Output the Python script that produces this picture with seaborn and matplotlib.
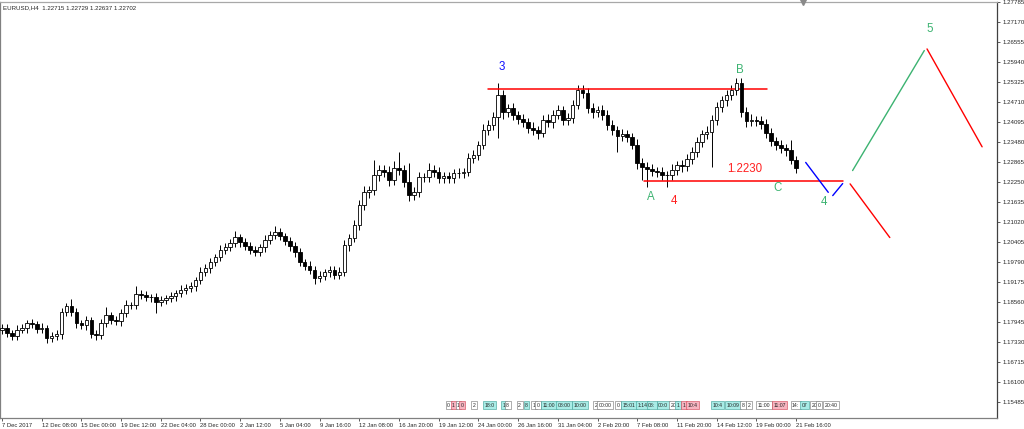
import numpy as np
import pandas as pd
import seaborn as sns
import matplotlib
matplotlib.use('Agg')
from matplotlib import pyplot as plt
import matplotlib.transforms as mtransforms

# EURUSD closes, one bar = 8 hours
first_open = 1.1770
closes = [
    1.1777, 1.1762, 1.1752, 1.1771, 1.1777, 1.1792, 1.1789, 1.1774, 1.1777, 1.1746,
    1.1752, 1.1758, 1.1826, 1.1845, 1.1826, 1.1792, 1.1786, 1.1802, 1.1758, 1.1755,
    1.1792, 1.1817, 1.1802, 1.1798, 1.1823, 1.1848, 1.1848, 1.1881, 1.1878, 1.1872,
    1.1872, 1.1857, 1.1863, 1.1869, 1.1875, 1.1885, 1.1894, 1.1900, 1.1906, 1.1925,
    1.1949, 1.1961, 1.1980, 1.1995, 1.2017, 1.2026, 1.2038, 1.2057, 1.2041, 1.2029,
    1.2017, 1.2011, 1.2026, 1.2048, 1.2063, 1.2072, 1.2060, 1.2044, 1.2029, 1.2011,
    1.1980, 1.1968, 1.1955, 1.1931, 1.1937, 1.1949, 1.1955, 1.1940, 1.1949, 1.2032,
    1.2054, 1.2094, 1.2155, 1.2195, 1.2201, 1.2247, 1.2263, 1.2257, 1.2232, 1.2269,
    1.2263, 1.2226, 1.2186, 1.2195, 1.2241, 1.2241, 1.2263, 1.2257, 1.2238, 1.2244,
    1.2238, 1.2254, 1.2254, 1.2257, 1.2300, 1.2309, 1.2340, 1.2386, 1.2401, 1.2426,
    1.2493, 1.2441, 1.2453, 1.2432, 1.2420, 1.2410, 1.2392, 1.2386, 1.2377, 1.2417,
    1.2410, 1.2432, 1.2447, 1.2417, 1.2423, 1.2463, 1.2509, 1.2500, 1.2453, 1.2441,
    1.2447, 1.2432, 1.2401, 1.2386, 1.2367, 1.2373, 1.2364, 1.2340, 1.2284, 1.2272,
    1.2266, 1.2260, 1.2257, 1.2247, 1.2247, 1.2263, 1.2278, 1.2275, 1.2297, 1.2318,
    1.2349, 1.2373, 1.2380, 1.2417, 1.2457, 1.2478, 1.2493, 1.2509, 1.2530, 1.2441,
    1.2413, 1.2417, 1.2413, 1.2404, 1.2377, 1.2352, 1.2340, 1.2330, 1.2324, 1.2294,
    1.2270]
# wicks in pips above / below the body
wick_up = [
    11, 13, 9, 14, 12, 9, 13, 10, 14, 9,
    12, 14, 13, 10, 22, 12, 9, 13, 10, 12,
    14, 24, 10, 13, 12, 14, 10, 24, 12, 13,
    10, 14, 12, 9, 13, 10, 14, 12, 13, 10,
    14, 12, 13, 10, 15, 12, 13, 17, 10, 14,
    12, 13, 10, 14, 12, 17, 13, 10, 14, 12,
    13, 10, 14, 12, 15, 10, 13, 12, 14, 16,
    13, 15, 14, 17, 13, 47, 15, 14, 17, 22,
    49, 15, 58, 14, 16, 13, 20, 14, 15, 13,
    14, 12, 15, 13, 14, 16, 13, 17, 14, 15,
    37, 17, 14, 15, 13, 16, 14, 17, 13, 15,
    17, 14, 15, 13, 16, 14, 16, 15, 14, 17,
    13, 15, 14, 16, 13, 15, 14, 13, 17, 15,
    14, 16, 13, 15, 14, 17, 13, 15, 14, 16,
    15, 13, 17, 14, 15, 13, 16, 14, 16, 15,
    14, 17, 13, 15, 14, 16, 13, 15, 14, 31,
    12]
wick_dn = [
    12, 14, 11, 13, 10, 14, 12, 13, 11, 14,
    13, 11, 14, 12, 13, 15, 11, 14, 12, 15,
    11, 13, 14, 12, 15, 11, 13, 14, 12, 13,
    14, 34, 12, 13, 11, 14, 12, 13, 11, 14,
    12, 13, 15, 11, 13, 14, 12, 13, 15, 12,
    14, 13, 12, 15, 13, 14, 12, 13, 14, 15,
    13, 14, 12, 18, 14, 13, 15, 12, 14, 13,
    17, 14, 16, 15, 19, 14, 17, 15, 18, 14,
    16, 15, 20, 17, 14, 16, 15, 17, 14, 15,
    16, 14, 15, 17, 14, 15, 16, 14, 17, 15,
    65, 20, 16, 15, 17, 14, 16, 15, 18, 14,
    15, 17, 14, 16, 15, 17, 14, 16, 15, 17,
    14, 16, 15, 17, 50, 15, 16, 14, 17, 40,
    56, 15, 17, 14, 37, 16, 15, 17, 14, 16,
    15, 17, 14, 108, 16, 15, 17, 14, 16, 15,
    17, 14, 16, 15, 17, 14, 16, 15, 17, 14,
    15]

date_labels = ['7 Dec 2017', '12 Dec 08:00', '15 Dec 00:00', '19 Dec 12:00', '22 Dec 04:00',
               '28 Dec 00:00', '2 Jan 12:00', '5 Jan 04:00', '9 Jan 16:00', '12 Jan 08:00',
               '16 Jan 20:00', '19 Jan 12:00', '24 Jan 00:00', '26 Jan 16:00', '31 Jan 04:00',
               '2 Feb 20:00', '7 Feb 08:00', '11 Feb 20:00', '14 Feb 12:00', '19 Feb 00:00',
               '21 Feb 16:00']
date_bars = [0, 8, 16, 24, 32, 40, 48, 56, 64, 72, 80, 88, 96, 104, 112, 120, 128, 136, 144, 152, 160]

price_ticks = [1.27785, 1.27170, 1.26555, 1.25940, 1.25325, 1.24710, 1.24095, 1.23480,
               1.22865, 1.22250, 1.21635, 1.21020, 1.20405, 1.19790, 1.19175, 1.18560,
               1.17945, 1.17330, 1.16715, 1.16100, 1.15485]

# wave analysis drawn on the chart (bar, price)
resistance = 1.2511
support = 1.2230
res_bars = [97.9, 154.2]
sup_bars = [129.4, 169.5]
blue_a = ([161.95, 166.5], [1.2286, 1.2194])
blue_b = ([167.4, 169.4], [1.2184, 1.2221])
green_up = ([171.4, 185.85], [1.2261, 1.2630])
red_top = ([186.4, 197.5], [1.2635, 1.2334])
red_low = ([170.9, 178.9], [1.2220, 1.2055])

wave_labels = [('3', 100.65, 1.2580, '#1010ff'), ('B', 148.7, 1.2570, '#3cb371'),
               ('1.2230', 149.7, 1.2266, '#ff2020'), ('A', 130.7, 1.2180, '#3cb371'),
               ('4', 135.4, 1.2166, '#ff2020'), ('C', 156.2, 1.2207, '#3cb371'),
               ('4', 165.6, 1.2164, '#3cb371'), ('5', 187.0, 1.2696, '#3cb371')]

# trade history boxes along the bottom (bar, text, kind)
trades = [(89.7, '0', 'w'), (90.7, '1', 'p'), (91.7, '1', 'w'), (92.5, '0', 'p'),
          (94.9, '2', 'w'), (97.3, '18:0', 'c'), (100.8, '1', 'c'), (101.6, '8', 'w'),
          (104.0, '2', 'w'), (105.4, '8', 'c'), (107.0, '1', 'w'), (107.8, '0', 'w'),
          (109.0, '11:00', 'c'), (112.0, '08:00', 'c'), (115.1, '10:00', 'c'),
          (119.5, '2', 'w'), (120.3, '00:00', 'w'), (123.9, '0', 'w'), (125.0, '15:01', 'c'),
          (128.0, '1:14', 'c'), (130.2, '08:', 'c'), (132.2, '00:0', 'c'), (134.8, '20', 'w'),
          (136.0, '1', 'c'), (137.2, '1', 'p'), (138.2, '10:4', 'p'), (143.1, '10:4', 'c'),
          (146.1, '10:09', 'c'), (149.1, '8', 'w'), (150.3, '2', 'w'), (152.3, '11:00', 'w'),
          (155.4, '11:07', 'p'), (159.2, '14:', 'w'), (161.2, '07', 'c'), (163.2, '20', 'w'),
          (164.4, '0', 'w'), (165.8, '20:40', 'w')]
box_colors = {'c': ('#a8ece6', '#3a9e96'), 'p': ('#f7b4c0', '#d04050'), 'w': ('white', '#707070')}

sns.set_style('white')
plt.rcParams['font.family'] = ['Liberation Sans', 'DejaVu Sans']

df = pd.DataFrame({'close': closes, 'up': wick_up, 'dn': wick_dn})
df['open'] = df['close'].shift(1).fillna(first_open)
df['top'] = df[['open', 'close']].max(axis=1)
df['bot'] = df[['open', 'close']].min(axis=1)
df['high'] = df['top'] + df['up'] * 0.0001
df['low'] = df['bot'] - df['dn'] * 0.0001
df['bull'] = df['close'] >= df['open']
idx = np.arange(len(df))

fig = plt.figure(figsize=(10.24, 4.29), dpi=100)
ax = fig.add_axes([0, 11 / 429, 997 / 1024, 416 / 429])

ax.vlines(idx, df['low'], df['high'], color='black', lw=0.7, zorder=2)
heights = np.maximum(df['top'] - df['bot'], 0.00006)
ax.bar(idx, heights, bottom=df['bot'], width=0.72,
       color=np.where(df['bull'], 'white', 'black'), edgecolor='black', linewidth=0.6, zorder=3)

# support / resistance and projected waves
sns.lineplot(x=res_bars, y=[resistance, resistance], color='#ff0000', lw=1.1, ax=ax)
sns.lineplot(x=sup_bars, y=[support, support], color='#ff0000', lw=1.1, ax=ax)
for seg, col in [(blue_a, '#0000ff'), (blue_b, '#0000ff'), (green_up, '#3cb371'),
                 (red_top, '#ff0000'), (red_low, '#ff0000')]:
    sns.lineplot(x=seg[0], y=seg[1], color=col, lw=1.0, sort=False, ax=ax)

for txt, bx, py, col in wave_labels:
    ax.text(bx, py, txt, color=col, fontsize=8.3, ha='center', va='center', zorder=5)

trans = mtransforms.blended_transform_factory(ax.transData, ax.transAxes)
for bx, txt, kind in trades:
    fc, ec = box_colors[kind]
    ax.text(bx, 0.031, txt, transform=trans, fontsize=3.7, ha='left', va='center',
            bbox=dict(boxstyle='square,pad=0.3', fc=fc, ec=ec, lw=0.4), zorder=6)

# chart shift marker on top
ax.plot([len(df) + 0.4], [1.0], marker='v', color='#8a8a8a', markersize=4.5,
        transform=trans, clip_on=False, zorder=7)

ax.text(0.003, 0.992, 'EURUSD,H4  1.22715 1.22729 1.22637 1.22702', transform=ax.transAxes,
        fontsize=4.4, va='top', ha='left')

ax.set_xlim(-0.4, 200.5)
ax.set_ylim(1.15001, 1.27793)
ax.yaxis.tick_right()
ax.set_yticks(price_ticks)
ax.set_yticklabels([f'{p:.5f}' for p in price_ticks])
ax.set_xticks(date_bars)
ax.set_xticklabels(date_labels)
for lab in ax.get_xticklabels():
    lab.set_ha('left')
ax.tick_params(axis='y', which='both', right=True, left=False, direction='out', length=2.5,
               width=0.6, color='#404040', labelsize=4.4, pad=1.5)
ax.tick_params(axis='x', which='both', bottom=True, direction='out', length=2.5,
               width=0.6, color='#404040', labelsize=4.2, pad=1.0)
ax.set_xlabel('')
ax.set_ylabel('')
if ax.get_legend():
    ax.get_legend().remove()

for side, col in [('left', '#808080'), ('top', '#a8a8a8'), ('right', '#404040'), ('bottom', '#808080')]:
    ax.spines[side].set_visible(True)
    ax.spines[side].set_color(col)
    ax.spines[side].set_linewidth(0.9)

fig.savefig('out.png', dpi=100)
